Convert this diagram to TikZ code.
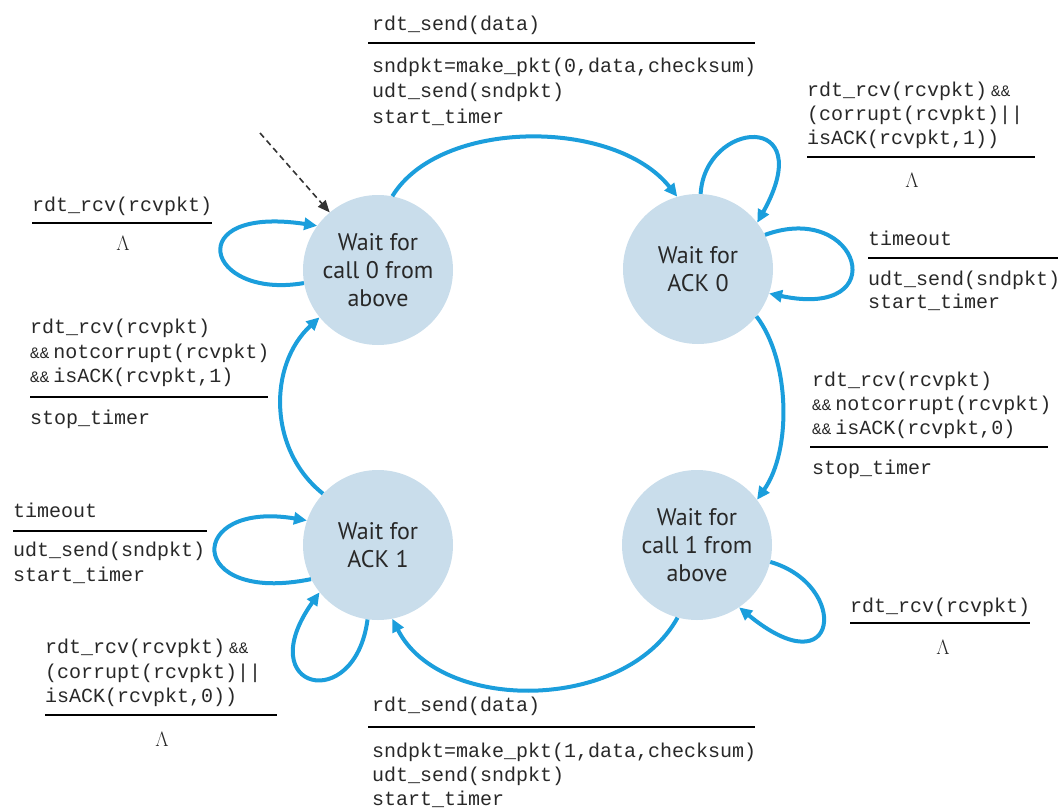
\documentclass[tikz,border=0pt]{standalone}
\usepackage{fontspec}
\newfontfamily\codefont{Liberation Mono}
\newfontfamily\statefont{PT Sans}
\usetikzlibrary{arrows.meta}
\definecolor{edgeblue}{RGB}{27,158,220}
\definecolor{statefill}{RGB}{201,221,235}
\definecolor{txt}{RGB}{40,40,40}
\newcommand{\ampamp}{{\fontsize{16}{25}\selectfont\&\&}}
\begin{document}
\begin{tikzpicture}[x=1pt,y=-1pt,
 statenode/.style={circle, fill=statefill, minimum size=150pt, inner sep=0pt, align=center,
   font=\statefont\fontsize{24}{28}\selectfont, text=txt},
 codetext/.style={anchor=base west, inner sep=0pt, font=\codefont\fontsize{20}{25}\selectfont, text=txt},
 lambdatext/.style={anchor=center, inner sep=0pt, font=\fontsize{21}{25}\selectfont, text=txt},
 rulex/.style={line width=1.6pt, draw=black},
 trans/.style={draw=edgeblue, line width=4pt, -{Triangle[length=13pt,width=12pt]}},
 initarrow/.style={draw=black!80, line width=1.6pt, dash pattern=on 6pt off 4pt, -{Triangle[length=12pt,width=10pt]}}
]
\useasboundingbox (0,0) rectangle (1061,809);

% states
\node[statenode] (s0) at (378,270) {Wait for\\call 0 from\\above};
\node[statenode] (s1) at (698,269) {Wait for\\ACK 0};
\node[statenode] (s2) at (378,545) {Wait for\\ACK 1};
\node[statenode] (s3) at (697,545) {Wait for\\call 1 from\\above};

% transitions
\draw[trans] (s0.79) .. controls (440,118) and (615,118) .. (s1.106);
\draw[trans] (s1.88) .. controls (705,120) and (820,110) .. (s1.38);
\draw[trans] (s1.27) .. controls (860,200) and (895,320) .. (s1.-19);
\draw[trans] (s1.-39) .. controls (790,360) and (792,450) .. (s3.37);
\draw[trans] (s3.-13) .. controls (850,585) and (840,690) .. (s3.-56);
\draw[trans] (s3.255) .. controls (625,713) and (440,713) .. (s2.281);
\draw[trans] (s2.207) .. controls (185,605) and (185,500) .. (s2.161);
\draw[trans] (s2.262) .. controls (355,715) and (250,690) .. (s2.219);
\draw[trans] (s2.137) .. controls (268,450) and (268,365) .. (s0.219);
\draw[trans] (s0.190) .. controls (205,300) and (180,205) .. (s0.144);
\coordinate (init) at (260,133);
\draw[initarrow] (init) -- (s0.130);

% top label
\node[codetext] (t1a) at (372,30) {rdt\_send(data)};
\draw[rulex] (368,43) -- (755,43);
\node[codetext] (t1b) at (372,72) {sndpkt=make\_pkt(0,data,checksum)};
\node[codetext] (t1c) at (372,97) {udt\_send(sndpkt)};
\node[codetext] (t1d) at (372,123) {start\_timer};

% top-right label
\node[codetext] (t2a) at (807,96) {rdt\_rcv(rcvpkt)\hspace{4pt}\ampamp};
\node[codetext] (t2b) at (807,120) {(corrupt(rcvpkt)||};
\node[codetext] (t2c) at (807,144) {isACK(rcvpkt,1))};
\draw[rulex] (807,157) -- (1035,157);
\node[lambdatext] (t2d) at (912,180) {$\Lambda$};

% timeout right
\node[codetext] (t3a) at (868,245) {timeout};
\draw[rulex] (868,258) -- (1058,258);
\node[codetext] (t3b) at (868,285) {udt\_send(sndpkt)};
\node[codetext] (t3c) at (868,308) {start\_timer};

% S1 -> S3 label
\node[codetext] (t4a) at (812,386) {rdt\_rcv(rcvpkt)};
\node[codetext] (t4b) at (812,410) {\ampamp\hspace{4pt}notcorrupt(rcvpkt)};
\node[codetext] (t4c) at (812,434) {\ampamp\hspace{4pt}isACK(rcvpkt,0)};
\draw[rulex] (810,447) -- (1048,447);
\node[codetext] (t4d) at (812,474) {stop\_timer};

% S0 loop label
\node[codetext] (t5a) at (32,211) {rdt\_rcv(rcvpkt)};
\draw[rulex] (32,223) -- (212,223);
\node[lambdatext] (t5b) at (123,243) {$\Lambda$};

% S2 -> S0 label
\node[codetext] (t6a) at (30,333) {rdt\_rcv(rcvpkt)};
\node[codetext] (t6b) at (30,358) {\ampamp\hspace{4pt}notcorrupt(rcvpkt)};
\node[codetext] (t6c) at (30,382) {\ampamp\hspace{4pt}isACK(rcvpkt,1)};
\draw[rulex] (30,397) -- (268,397);
\node[codetext] (t6d) at (30,424) {stop\_timer};

% S2 timeout label
\node[codetext] (t7a) at (13,517) {timeout};
\draw[rulex] (13,531) -- (207,531);
\node[codetext] (t7b) at (13,556) {udt\_send(sndpkt)};
\node[codetext] (t7c) at (13,581) {start\_timer};

% S2 bottom loop label
\node[codetext] (t8a) at (45,653) {rdt\_rcv(rcvpkt)\hspace{4pt}\ampamp};
\node[codetext] (t8b) at (45,678) {(corrupt(rcvpkt)||};
\node[codetext] (t8c) at (45,702) {isACK(rcvpkt,0))};
\draw[rulex] (45,715) -- (277,715);
\node[lambdatext] (t8d) at (162,739) {$\Lambda$};

% bottom label
\node[codetext] (t9a) at (372,711) {rdt\_send(data)};
\draw[rulex] (368,727) -- (755,727);
\node[codetext] (t9b) at (372,757) {sndpkt=make\_pkt(1,data,checksum)};
\node[codetext] (t9c) at (372,781) {udt\_send(sndpkt)};
\node[codetext] (t9d) at (372,805) {start\_timer};

% S3 loop label
\node[codetext] (t10a) at (850,612) {rdt\_rcv(rcvpkt)};
\draw[rulex] (850,623) -- (1030,623);
\node[lambdatext] (t10b) at (943,647) {$\Lambda$};
\end{tikzpicture}
\end{document}
